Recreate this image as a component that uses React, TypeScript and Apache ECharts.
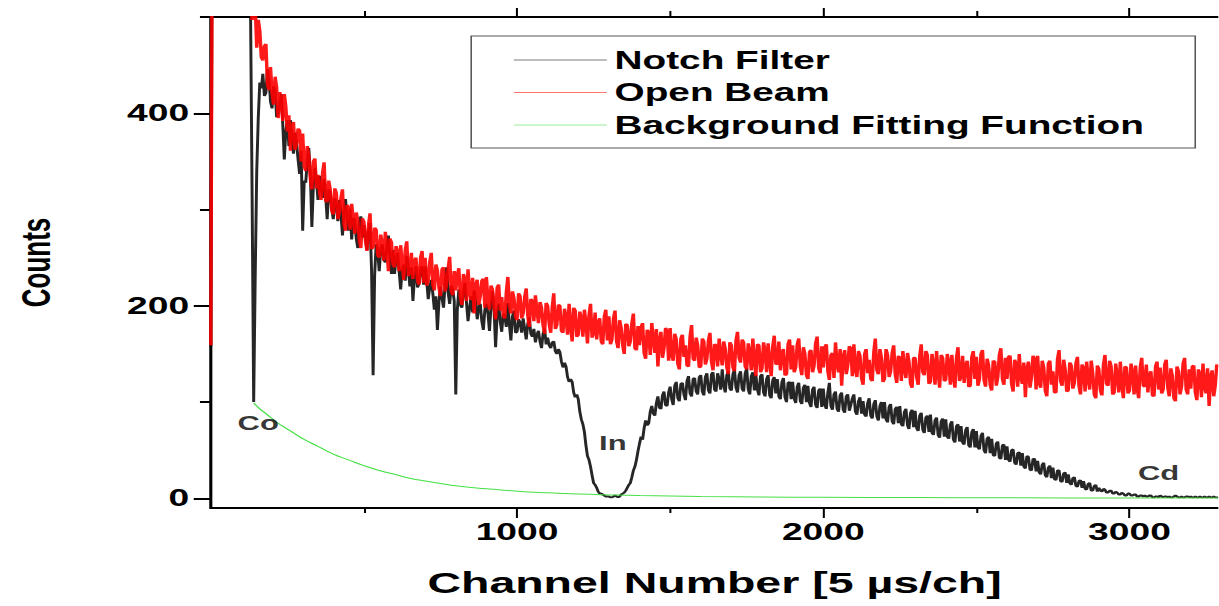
import { useEffect, useRef } from "react";
import * as echarts from "echarts";

// Channel grid of the two measured spectra (one value every 5 channels, from channel 0)
const CHANNEL_STEP = 5;

// Notch Filter spectrum (counts), 20 values per 100 channels
const notchFilter = [
  158, 648, 645, 640, 632, 625, 618, 612, 606, 602, 597, 590, 585, 580, 574, 570, 566, 560, 553, 549,
  545, 540, 533, 527, 521, 520, 498, 310, 100, 230, 340, 395, 432, 426, 441, 418, 421, 446, 436, 412,
  405, 428, 424, 396, 400, 411, 420, 389, 352, 381, 393, 366, 393, 374, 358, 380, 369, 352, 337, 361,
  278, 330, 328, 350, 364, 338, 282, 325, 343, 331, 310, 335, 322, 312, 332, 315, 290, 321, 318, 300,
  290, 312, 304, 288, 310, 296, 273, 299, 311, 289, 278, 301, 269, 291, 289, 270, 260, 286, 293, 271,
  284, 270, 258, 279, 286, 236, 128, 232, 264, 257, 236, 259, 264, 248, 245, 262, 273, 250, 233, 258,
  233, 249, 255, 236, 217, 238, 243, 226, 252, 239, 220, 240, 205, 229, 241, 219, 223, 238, 241, 222,
  241, 226, 207, 219, 227, 213, 196, 210, 175, 204, 220, 208, 198, 222, 240, 214, 202, 221, 217, 205,
  108, 196, 217, 201, 198, 214, 224, 203, 184, 198, 210, 193, 216, 204, 186, 199, 202, 184, 175, 196,
  202, 192, 174, 199, 215, 196, 157, 190, 202, 184, 173, 192, 189, 178, 203, 181, 164, 189, 195, 172,
  173, 186, 183, 172, 187, 176, 165, 181, 188, 171, 168, 176, 162, 170, 174, 163, 156, 171, 176, 160,
  167, 159, 156, 162, 163, 153, 150, 155, 152, 142, 136, 141, 137, 126, 121, 124, 121, 110, 105, 108,
  103, 90, 82, 77, 69, 55, 44, 40, 33, 24, 16, 14, 11, 7, 5, 5, 4, 3, 2, 2,
  2, 1, 1, 2, 3, 2, 1, 2, 4, 5, 6, 8, 11, 14, 16, 22, 29, 33, 40, 49,
  57, 64, 61, 73, 81, 76, 78, 90, 96, 88, 86, 99, 106, 94, 93, 107, 111, 97, 96, 110,
  116, 103, 97, 117, 121, 104, 101, 119, 120, 108, 102, 122, 127, 109, 106, 124, 125, 111, 108, 126,
  128, 111, 107, 126, 130, 112, 109, 129, 131, 113, 111, 130, 124, 113, 134, 117, 110, 128, 132, 114,
  112, 129, 134, 115, 110, 128, 132, 114, 111, 130, 135, 113, 108, 127, 131, 112, 128, 113, 107, 127,
  129, 110, 106, 124, 128, 107, 104, 123, 126, 109, 124, 106, 103, 121, 125, 105, 100, 120, 121, 103,
  121, 104, 99, 116, 120, 101, 98, 115, 118, 100, 117, 99, 95, 113, 116, 97, 94, 112, 114, 95,
  114, 97, 93, 110, 120, 96, 92, 108, 111, 93, 90, 107, 110, 92, 89, 106, 108, 91, 97, 104,
  108, 90, 87, 101, 105, 88, 101, 87, 85, 99, 104, 86, 83, 98, 102, 85, 81, 96, 100, 83,
  100, 82, 79, 95, 98, 80, 77, 93, 95, 78, 96, 77, 75, 90, 93, 76, 72, 89, 92, 74,
  91, 73, 70, 86, 89, 71, 68, 84, 86, 69, 87, 68, 66, 81, 84, 66, 63, 80, 83, 64,
  82, 64, 62, 77, 80, 61, 58, 75, 77, 59, 75, 58, 56, 71, 74, 55, 53, 69, 72, 53,
  70, 53, 51, 65, 68, 50, 47, 62, 64, 47, 62, 45, 44, 57, 59, 42, 41, 55, 56, 40,
  54, 40, 38, 50, 51, 37, 35, 47, 48, 34, 47, 33, 31, 44, 43, 30, 29, 41, 41, 28,
  39, 27, 25, 35, 37, 24, 22, 32, 34, 21, 32, 20, 19, 29, 29, 18, 17, 26, 27, 16,
  25, 16, 14, 21, 22, 13, 12, 18, 19, 11, 18, 10, 9, 15, 16, 8, 8, 13, 14, 7,
  11, 8, 7, 10, 9, 6, 6, 8, 8, 5, 5, 7, 6, 4, 4, 6, 5, 3, 3, 5,
  5, 3, 3, 4, 4, 2, 2, 3, 3, 2, 3, 2, 2, 3, 3, 1, 1, 2, 2, 1,
  3, 2, 1, 2, 2, 1, 2, 1, 1, 2, 3, 2, 1, 1, 2, 1, 1, 2, 2, 1,
  2, 1, 1, 2, 1, 1, 2, 1, 1, 2, 1, 1, 2, 1, 1, 2, 1, 1, 1,
];

// Open Beam spectrum (counts), 20 values per 100 channels
const openBeam = [
  159, 645, 640, 635, 630, 625, 620, 615, 610, 605, 600, 595, 590, 585, 580, 575, 570, 565, 560, 555,
  550, 545, 540, 536, 532, 524, 515, 497, 506, 512, 468, 497, 486, 458, 455, 470, 472, 430, 424, 448,
  421, 409, 438, 427, 395, 422, 416, 392, 420, 407, 381, 398, 361, 386, 391, 362, 369, 384, 382, 350,
  379, 345, 340, 366, 356, 332, 321, 350, 353, 322, 336, 318, 310, 338, 349, 309, 308, 330, 321, 299,
  295, 322, 317, 290, 297, 312, 321, 285, 278, 305, 302, 279, 306, 291, 275, 297, 289, 268, 260, 291,
  287, 268, 257, 284, 296, 259, 261, 281, 279, 253, 250, 274, 264, 247, 277, 259, 236, 270, 266, 243,
  240, 262, 256, 236, 263, 244, 227, 258, 267, 231, 236, 255, 228, 247, 250, 226, 222, 250, 257, 224,
  250, 221, 226, 246, 255, 222, 216, 243, 237, 219, 210, 238, 240, 215, 222, 239, 251, 216, 211, 236,
  216, 232, 239, 209, 201, 233, 228, 205, 238, 214, 206, 229, 192, 222, 227, 201, 210, 226, 228, 198,
  230, 205, 196, 221, 217, 199, 186, 219, 222, 195, 209, 190, 187, 214, 230, 201, 192, 215, 208, 189,
  185, 213, 210, 187, 192, 209, 218, 190, 178, 207, 205, 184, 211, 195, 182, 204, 198, 180, 171, 203,
  200, 181, 172, 199, 213, 176, 180, 201, 200, 174, 172, 197, 188, 170, 202, 179, 163, 198, 195, 168,
  170, 194, 187, 168, 196, 183, 161, 190, 202, 167, 172, 193, 165, 182, 187, 163, 160, 189, 196, 164,
  189, 160, 165, 187, 195, 163, 156, 185, 177, 159, 150, 181, 180, 158, 163, 182, 192, 156, 154, 179,
  159, 178, 182, 151, 145, 175, 172, 149, 182, 165, 151, 176, 137, 164, 173, 146, 156, 177, 174, 143,
  177, 149, 143, 171, 165, 140, 134, 166, 170, 147, 159, 138, 137, 168, 180, 145, 143, 167, 159, 136,
  137, 166, 163, 139, 145, 164, 172, 142, 133, 160, 159, 137, 166, 150, 138, 163, 155, 136, 129, 162,
  159, 136, 132, 164, 173, 146, 141, 165, 162, 137, 134, 161, 151, 133, 166, 143, 127, 160, 159, 131,
  135, 162, 153, 131, 161, 142, 127, 158, 169, 140, 139, 163, 133, 151, 155, 128, 129, 160, 165, 134,
  159, 131, 136, 160, 166, 137, 128, 157, 150, 128, 124, 152, 154, 131, 138, 161, 168, 135, 130, 158,
  136, 157, 160, 132, 123, 149, 151, 125, 162, 140, 131, 155, 117, 147, 154, 129, 138, 158, 156, 127,
  160, 134, 126, 153, 148, 125, 118, 150, 155, 130, 144, 124, 122, 152, 166, 133, 129, 155, 146, 121,
  124, 155, 149, 126, 132, 151, 159, 129, 120, 148, 146, 122, 153, 135, 125, 151, 142, 119, 115, 146,
  146, 126, 118, 148, 160, 131, 128, 153, 149, 119, 121, 150, 138, 118, 153, 131, 115, 149, 146, 122,
  123, 150, 141, 118, 149, 126, 115, 146, 157, 122, 127, 148, 120, 137, 143, 116, 117, 147, 153, 124,
  147, 117, 124, 150, 154, 123, 116, 145, 138, 118, 112, 143, 142, 117, 126, 149, 156, 124, 118, 146,
  124, 147, 148, 119, 111, 144, 139, 116, 150, 126, 119, 141, 105, 134, 142, 115, 126, 148, 145, 113,
  148, 120, 115, 143, 136, 112, 106, 140, 143, 118, 132, 110, 110, 145, 154, 122, 117, 144, 134, 111,
  112, 141, 138, 114, 120, 140, 147, 117, 108, 139, 135, 111, 142, 125, 113, 143, 130, 108, 104, 138,
  134, 112, 107, 139, 149, 119, 117, 143, 137, 108, 110, 140, 127, 110, 142, 118, 104, 137, 136, 109,
  112, 140, 130, 108, 138, 114, 104, 136, 146, 117, 116, 139, 110, 128, 132, 107, 106, 137, 142, 113,
  136, 109, 113, 139, 144, 115, 106, 135, 127, 104, 101, 137, 132, 108, 116, 140, 146, 113, 108, 134,
  114, 137, 138, 110, 102, 134, 129, 105, 140, 116, 109, 135, 96, 127, 133, 106, 117, 139, 136,
];

// Background fitting function, sampled points
const fitChannels = [
  140, 160, 180, 200, 220, 240, 260, 280, 300, 350, 400, 450, 500, 550, 600,
  650, 700, 750, 800, 900, 1000, 1100, 1200, 1300, 1400, 1600, 1800, 2000,
  2300, 2600, 3000, 3290,
];
const fitCounts = [
  99, 93, 88, 83, 78, 74, 70, 66, 62, 54, 46, 40, 34, 29, 25,
  21, 18, 15.5, 13, 10, 7.5, 5.8, 4.5, 3.6, 2.9, 2, 1.5, 1.1,
  0.8, 0.6, 0.4, 0.3,
];

// Resonance annotations
const peakNames = ["Co", "In", "Cd"];
const peakChannels = [155, 1313, 3095];
const peakLabelCounts = [78, 57, 26];

// Axis ticks
const xTicksMajor = [1000, 2000, 3000];
const xTicksMinor = [500, 1500, 2500];
const yTicksMajor = [0, 200, 400];
const yTicksMinor = [100, 300, 500];

const X_MIN = 0;
const X_MAX = 3290;
const Y_MIN = -10;
const Y_MAX = 500;

const STRETCH = 1.55;
const W = 786;
const H = 606;

export default function App() {
  const ref = useRef<HTMLDivElement>(null);

  useEffect(() => {
    if (!ref.current) return;
    const chart = echarts.init(ref.current, null, {
      renderer: "svg",
      width: W,
      height: H,
    });
    const font = "'Liberation Sans', Arial, sans-serif";
    const toPairs = (vals: number[]) =>
      vals.map((v, i) => [i * CHANNEL_STEP, v]);
    const black = "#000";
    const plain = (v: number) => String(v);

    const tickAxisX = (
      position: string,
      ticks: number[],
      length: number,
      withLine: boolean
    ) => ({
      type: "value",
      position,
      min: X_MIN,
      max: X_MAX,
      axisLine: {
        show: withLine,
        onZero: false,
        lineStyle: { color: black, width: 2 },
      },
      axisTick: {
        show: true,
        inside: false,
        length,
        customValues: ticks,
        lineStyle: { color: black, width: 1.3 },
      },
      axisLabel: { show: false },
      splitLine: { show: false },
    });

    const option = {
      animation: false,
      textStyle: { fontFamily: font },
      grid: {
        left: 136,
        right: 0,
        top: 17,
        bottom: 98,
        outerBoundsMode: "none",
      },
      legend: {
        data: ["Notch Filter", "Open Beam", "Background Fitting Function"],
        orient: "vertical",
        left: 304,
        top: 36,
        padding: [11.5, 33, 10.5, 27.5],
        itemGap: 7.5,
        icon: "rect",
        itemWidth: 60,
        itemHeight: 1.2,
        itemStyle: { opacity: 0.55 },
        borderColor: "#555",
        borderWidth: 1,
        selectedMode: false,
        textStyle: {
          fontSize: 25,
          fontWeight: "bold",
          color: black,
          lineHeight: 25,
          fontFamily: font,
        },
      },
      xAxis: [
        {
          type: "value",
          position: "bottom",
          min: X_MIN,
          max: X_MAX,
          axisLine: {
            show: true,
            onZero: false,
            lineStyle: { color: black, width: 2 },
          },
          axisTick: {
            show: true,
            inside: false,
            length: 10,
            customValues: xTicksMajor,
            lineStyle: { color: black, width: 1.3 },
          },
          axisLabel: {
            show: true,
            customValues: xTicksMajor,
            formatter: plain,
            margin: 12,
            fontSize: 24,
            fontWeight: "bold",
            color: black,
            fontFamily: font,
          },
          splitLine: { show: false },
          name: "Channel Number [5 µs/ch]",
          nameLocation: "middle",
          nameGap: 60,
          nameTextStyle: {
            fontSize: 30,
            fontWeight: "bold",
            color: black,
            fontFamily: font,
          },
        },
        tickAxisX("bottom", xTicksMinor, 5, false),
        tickAxisX("top", xTicksMajor, 9, true),
        tickAxisX("top", xTicksMinor, 6, false),
      ],
      yAxis: [
        {
          type: "value",
          position: "left",
          min: Y_MIN,
          max: Y_MAX,
          axisLine: {
            show: true,
            onZero: false,
            lineStyle: { color: black, width: 2 },
          },
          axisTick: {
            show: true,
            inside: false,
            length: 11,
            customValues: yTicksMajor,
            lineStyle: { color: black, width: 2 },
          },
          axisLabel: {
            show: true,
            customValues: yTicksMajor,
            formatter: plain,
            margin: 14,
            fontSize: 24,
            fontWeight: "bold",
            color: black,
            fontFamily: font,
          },
          splitLine: { show: false },
          name: "Counts",
          nameLocation: "middle",
          nameGap: 100,
          nameRotate: 90,
          nameTextStyle: {
            fontSize: 26,
            fontWeight: "bold",
            color: black,
            fontFamily: font,
          },
        },
        {
          type: "value",
          position: "left",
          min: Y_MIN,
          max: Y_MAX,
          axisLine: { show: false, onZero: false },
          axisTick: {
            show: true,
            inside: false,
            length: 7,
            customValues: yTicksMinor,
            lineStyle: { color: black, width: 2 },
          },
          axisLabel: { show: false },
          splitLine: { show: false },
        },
      ],
      series: [
        {
          name: "Notch Filter",
          type: "line",
          xAxisIndex: 0,
          yAxisIndex: 0,
          data: toPairs(notchFilter),
          symbol: "none",
          clip: true,
          lineStyle: { color: "#000", width: 1.9, opacity: 0.85, join: "bevel" },
          itemStyle: { color: "#111" },
          z: 2,
        },
        {
          name: "Open Beam",
          type: "line",
          xAxisIndex: 0,
          yAxisIndex: 0,
          data: toPairs(openBeam),
          symbol: "none",
          clip: true,
          lineStyle: { color: "#ff0000", width: 2.2, opacity: 0.9, join: "bevel" },
          itemStyle: { color: "#ff0000" },
          z: 3,
        },
        {
          name: "Background Fitting Function",
          type: "line",
          xAxisIndex: 0,
          yAxisIndex: 0,
          data: fitChannels.map((c, i) => [c, fitCounts[i]]),
          symbol: "none",
          smooth: true,
          clip: true,
          lineStyle: { color: "#45e045", width: 1 },
          itemStyle: { color: "#45e045" },
          z: 4,
        },
        {
          name: "peaks",
          type: "scatter",
          xAxisIndex: 0,
          yAxisIndex: 0,
          silent: true,
          symbolSize: 1,
          itemStyle: { color: "rgba(0,0,0,0)" },
          data: peakNames.map((n, i) => ({
            name: n,
            value: [peakChannels[i], peakLabelCounts[i]],
          })),
          label: {
            show: true,
            position: "inside",
            formatter: "{b}",
            fontSize: 20,
            fontWeight: "bold",
            color: black,
            fontFamily: font,
          },
          z: 5,
        },
      ],
    };

    chart.setOption(option as any);
    return () => chart.dispose();
  }, []);

  return (
    <div
      style={{
        position: "fixed",
        left: 0,
        top: 0,
        width: W,
        height: H,
        transform: `scaleX(${STRETCH})`,
        transformOrigin: "0 0",
        background: "#fff",
      }}
    >
      <div ref={ref} style={{ width: W, height: H }} />
    </div>
  );
}
